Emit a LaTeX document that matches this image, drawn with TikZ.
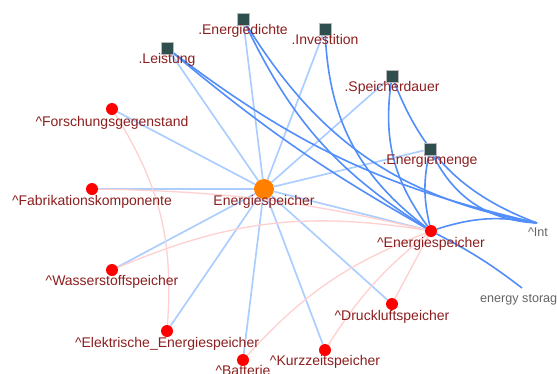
\documentclass[tikz,border=0pt]{standalone}
\usepackage{fontspec}
\setmainfont{Liberation Sans}
\definecolor{lightedge}{RGB}{172,206,255}
\definecolor{darkedge}{RGB}{82,142,250}
\definecolor{pinkedge}{RGB}{255,208,208}
\definecolor{labred}{RGB}{140,30,30}
\definecolor{sqfill}{RGB}{47,79,79}
\definecolor{graytext}{RGB}{100,100,100}
\pgfdeclarelayer{bg}
\pgfsetlayers{bg,main}
\tikzset{
  lb/.style={draw=lightedge, line width=1.7pt},
  db/.style={draw=darkedge, line width=1.6pt},
  pk/.style={draw=pinkedge, line width=1.3pt},
  rnode/.style={circle, fill=red, inner sep=0pt, minimum size=12pt},
  onode/.style={circle, fill=orange, inner sep=0pt, minimum size=20pt},
  sqnode/.style={rectangle, fill=sqfill, draw=gray!55, line width=0.8pt, inner sep=0pt, minimum size=12pt},
  lab/.style={text=labred, font=\fontsize{14}{16}\selectfont, inner sep=0pt, anchor=base},
  glab/.style={text=graytext, font=\fontsize{12.6}{14}\selectfont, inner sep=0pt, anchor=base},
}
\begin{document}
\begin{tikzpicture}[x=1pt,y=-1pt]
\useasboundingbox (0,0) rectangle (557,373);
% nodes
\node[onode] (C) at (264,189) {};
\node[rnode] (E) at (431,231) {};
\node[sqnode] (Lei) at (167,48) {};
\node[sqnode] (Edi) at (243,19) {};
\node[sqnode] (Inv) at (325,29) {};
\node[sqnode] (Spd) at (392,76) {};
\node[sqnode] (Emg) at (430,149) {};
\node[rnode] (For) at (112,109) {};
\node[rnode] (Fab) at (92,189) {};
\node[rnode] (Was) at (112,270) {};
\node[rnode] (Ele) at (167,331) {};
\node[rnode] (Bat) at (243,360) {};
\node[rnode] (Kur) at (325,350) {};
\node[rnode] (Dru) at (392,304) {};
\coordinate (Int) at (537,223);
\coordinate (Est) at (522,288);
% labels
\node[lab] (lC) at (264,205) {Energiespeicher};
\node[lab] (lE) at (431,247) {\^{}Energiespeicher};
\node[lab] (lLei) at (167,63) {.Leistung};
\node[lab] (lEdi) at (243,34) {.Energiedichte};
\node[lab] (lInv) at (325,44) {.Investition};
\node[lab] (lSpd) at (392,91) {.Speicherdauer};
\node[lab] (lEmg) at (430,164) {.Energiemenge};
\node[lab] (lFor) at (112,126) {\^{}Forschungsgegenstand};
\node[lab] (lFab) at (92,205) {\^{}Fabrikationskomponente};
\node[lab] (lWas) at (112,285) {\^{}Wasserstoffspeicher};
\node[lab] (lEle) at (167,347) {\^{}Elektrische\_Energiespeicher};
\node[lab] (lBat) at (243,375) {\^{}Batterie};
\node[lab] (lKur) at (325,365) {\^{}Kurzzeitspeicher};
\node[lab] (lDru) at (392,320) {\^{}Druckluftspeicher};
\node[glab] (lInt) at (538,236) {\^{}Int};
\node[glab, anchor=base west] (lEst) at (480,302) {energy storag};
% edges
\begin{pgfonlayer}{bg}
\foreach \n in {Lei,Edi,Inv,Spd,Emg,For,Fab,Was,Ele,Bat,Kur,Dru,E}
  \draw[lb] (C) -- (\n);
\draw[pk] (Fab) to[bend left=6] (E);
\draw[pk] (Was) to[bend left=16] (E);
\draw[pk] (For) to[bend left=18] (Ele);
\draw[pk] (Bat) to[bend left=13] (E);
\draw[pk] (Kur) to[bend left=9] (E);
\draw[pk] (Dru) -- (E);
\draw[db] (Lei) to[bend right=5] (E);
\draw[db] (Lei) to[bend right=12] (Int);
\draw[db] (Edi) to[bend right=16] (E);
\draw[db] (Edi) to[bend right=24] (Int);
\draw[db] (Inv) to[bend right=25] (E);
\draw[db] (Spd) to[bend right=22] (E);
\draw[db] (Spd) to[bend right=24] (Int);
\draw[db] (Emg) to[bend right=12] (E);
\draw[db] (Emg) to[bend right=30] (Int);
\draw[db] (E) to[bend left=14] (Int);
\draw[db] (E) to[bend left=5] (Est);
\end{pgfonlayer}
\end{tikzpicture}
\end{document}
